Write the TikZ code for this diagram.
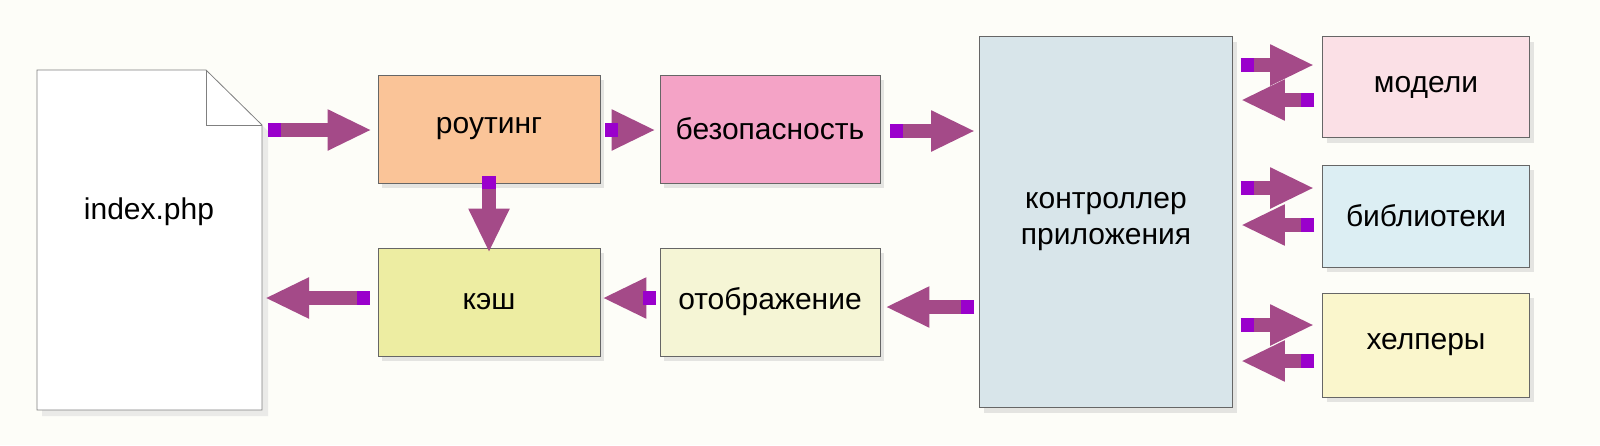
\documentclass[tikz,border=0pt]{standalone}
\usepackage{fontspec}
\setmainfont{Liberation Sans}
\usetikzlibrary{arrows.meta,calc,shadows}
\definecolor{bg}{HTML}{FDFDF8}
\definecolor{arr}{HTML}{A44A88}
\definecolor{stub}{HTML}{9A00CC}
\definecolor{cRout}{HTML}{FAC498}
\definecolor{cBez}{HTML}{F4A3C6}
\definecolor{cKesh}{HTML}{EDEDA2}
\definecolor{cOtob}{HTML}{F5F5D5}
\definecolor{cCtrl}{HTML}{D8E5EA}
\definecolor{cMod}{HTML}{FBE0E6}
\definecolor{cLib}{HTML}{DCEEF3}
\definecolor{cHelp}{HTML}{FAF6CC}
\tikzset{
 box/.style={draw=black!60,line width=0.8pt,minimum width=222pt,minimum height=108pt,inner sep=0pt,
   font=\fontsize{30}{36}\selectfont,align=center,drop shadow={shadow xshift=4pt,shadow yshift=-5pt,fill=black!20,opacity=0.5}},
 fat/.style={draw=arr,line width=14pt,-{Triangle[length={44pt 0},width={38pt 0}]}}
}
\newcommand{\fat}[2]{\draw[fat] #1 -- #2; \draw[stub,line width=14pt] #1 -- ($#1!13pt!#2$);}
\begin{document}
\begin{tikzpicture}[x=1pt,y=-1pt]
\fill[bg] (0,0) rectangle (1600,445);
\useasboundingbox (0,0) rectangle (1600,445);
% document
\fill[black!15,opacity=0.5] (42,76) -- (212,76) -- (268,131) -- (268,416) -- (42,416) -- cycle;
\draw[black!50,line width=0.8pt,fill=white] (37,70) -- (206,70) -- (262,125) -- (262,410) -- (37,410) -- cycle;
\draw[black!50,line width=0.8pt] (206,70) -- (206,125) -- (262,125);
\node[font=\fontsize{30}{36}\selectfont] (idx) at (149,212) {index.php};
\coordinate (idxE) at (262,240);
\node[box,fill=cRout] (rout) at (489,129) {роутинг};
\node[box,fill=cBez,minimum width=220pt] (bez) at (770,129) {безопасность};
\node[box,fill=cKesh] (kesh) at (489,302) {кэш};
\node[box,fill=cOtob,minimum width=220pt] (otob) at (770,302) {отображение};
\node[box,fill=cCtrl,minimum width=253pt,minimum height=371pt] (ctrl) at (1106,222) {контроллер\\приложения};
\node[box,fill=cMod,minimum width=207pt,minimum height=101pt] (mod) at (1426,87) {модели};
\node[box,fill=cLib,minimum width=207pt,minimum height=102pt] (lib) at (1426,216) {библиотеки};
\node[box,fill=cHelp,minimum width=207pt,minimum height=104pt] (help) at (1426,345) {хелперы};
% arrows
\fat{(268,130)}{([xshift=-6pt]rout.west|-0,130)}
\fat{([xshift=5pt]rout.east|-0,130)}{([xshift=-4pt]bez.west|-0,130)}
\fat{([xshift=10pt]bez.east|-0,131)}{([xshift=-4pt]ctrl.west|-0,131)}
\fat{([yshift=7pt]rout.south)}{([yshift=-5pt]kesh.north)}
\fat{([xshift=-5pt]ctrl.west|-0,307)}{([xshift=5pt]otob.east|-0,307)}
\fat{([xshift=-4pt]otob.west|-0,298)}{([xshift=2pt]kesh.east|-0,298)}
\fat{([xshift=-8pt]kesh.west|-0,298)}{([xshift=3pt]idxE|-0,298)}
\fat{([xshift=8pt]ctrl.east|-0,65)}{([xshift=-8pt]mod.west|-0,65)}
\fat{([xshift=-8pt]mod.west|-0,100)}{([xshift=8pt]ctrl.east|-0,100)}
\fat{([xshift=8pt]ctrl.east|-0,188)}{([xshift=-8pt]lib.west|-0,188)}
\fat{([xshift=-8pt]lib.west|-0,225)}{([xshift=8pt]ctrl.east|-0,225)}
\fat{([xshift=8pt]ctrl.east|-0,325)}{([xshift=-8pt]help.west|-0,325)}
\fat{([xshift=-8pt]help.west|-0,361)}{([xshift=8pt]ctrl.east|-0,361)}
\end{tikzpicture}
\end{document}
